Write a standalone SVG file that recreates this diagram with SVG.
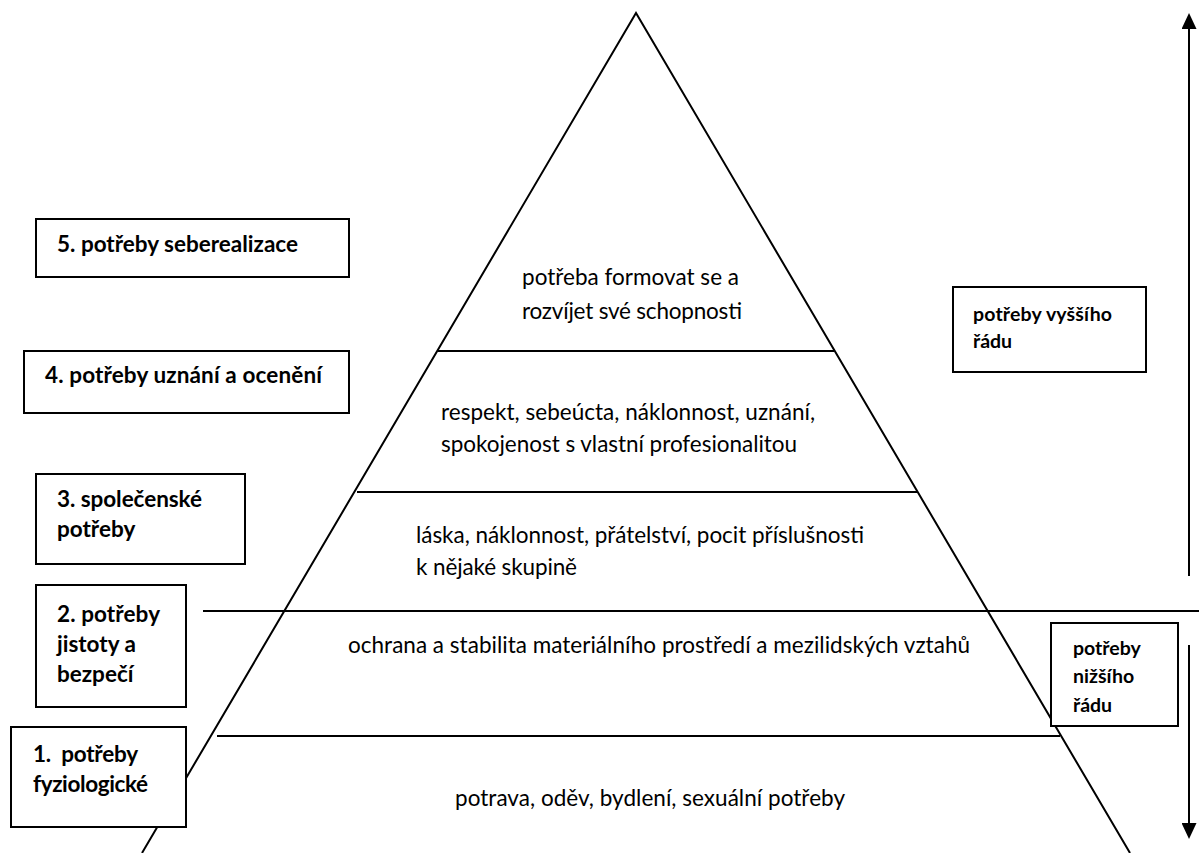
<svg xmlns="http://www.w3.org/2000/svg" width="1199" height="853" viewBox="0 0 1199 853">
<style>
.ln{stroke:#000;stroke-width:2;fill:none}
.bx{fill:#fff;stroke:#000;stroke-width:2}
.t{font-family:Lato,"Open Sans",sans-serif;font-size:22.5px;fill:#000}
.b{font-family:Lato,"Open Sans",sans-serif;font-size:22.5px;font-weight:bold;fill:#000}
.s{font-family:Lato,"Open Sans",sans-serif;font-size:19.5px;font-weight:bold;fill:#000}
</style>
<defs>
<marker id="ah" viewBox="0 0 16 15" refX="0" refY="7.5" markerWidth="16" markerHeight="15" markerUnits="userSpaceOnUse" orient="auto">
<path d="M0,0 L16,7.5 L0,15 Z" fill="#000"/>
</marker>
</defs>
<rect width="1199" height="853" fill="#fff"/>
<g id="pyramid">
<polyline class="ln" points="142,853 636,13 1130,853"/>
</g>
<g id="connectors">
<line class="ln" x1="438" y1="351" x2="834" y2="351"/>
<line class="ln" x1="357" y1="492" x2="917" y2="492"/>
<line class="ln" x1="203" y1="611" x2="1199" y2="611"/>
<line class="ln" x1="217" y1="736" x2="1060" y2="736"/>
<line x1="1189" y1="576" x2="1189" y2="29" stroke="#000" stroke-width="2" marker-end="url(#ah)"/>
<line x1="1189" y1="645" x2="1189" y2="823" stroke="#000" stroke-width="2" marker-end="url(#ah)"/>
</g>
<g id="level5-text">
<text class="t" x="522" y="285" textLength="217">potřeba formovat se a</text>
<text class="t" x="522" y="319" textLength="220">rozvíjet své schopnosti</text>
</g>
<g id="level4-text">
<text class="t" x="441" y="420" textLength="374">respekt, sebeúcta, náklonnost, uznání,</text>
<text class="t" x="441" y="452" textLength="356">spokojenost s vlastní profesionalitou</text>
</g>
<g id="level3-text">
<text class="t" x="416" y="543" textLength="448">láska, náklonnost, přátelství, pocit příslušnosti</text>
<text class="t" x="416" y="575" textLength="161">k nějaké skupině</text>
</g>
<g id="level2-text">
<text class="t" x="348" y="653" textLength="622">ochrana a stabilita materiálního prostředí a mezilidských vztahů</text>
</g>
<g id="level1-text">
<text class="t" x="455" y="806" textLength="390">potrava, oděv, bydlení, sexuální potřeby</text>
</g>
<g id="box5">
<rect class="bx" x="36" y="219" width="313" height="58"/>
<text class="b" x="57" y="252" textLength="241">5. potřeby seberealizace</text>
</g>
<g id="box4">
<rect class="bx" x="24" y="351" width="325" height="62"/>
<text class="b" x="45" y="383" textLength="277">4. potřeby uznání a ocenění</text>
</g>
<g id="box3">
<rect class="bx" x="36" y="474" width="209" height="90"/>
<text class="b" x="57" y="507" textLength="145">3. společenské</text>
<text class="b" x="57" y="537">potřeby</text>
</g>
<g id="box2">
<rect class="bx" x="36" y="585" width="150" height="122"/>
<text class="b" x="57" y="622" textLength="103">2. potřeby</text>
<text class="b" x="57" y="652">jistoty a</text>
<text class="b" x="57" y="682">bezpečí</text>
</g>
<g id="box1">
<rect class="bx" x="11" y="727" width="175" height="100"/>
<text class="b" x="33" y="762" textLength="105" xml:space="preserve">1.  potřeby</text>
<text class="b" x="33" y="792" textLength="115">fyziologické</text>
</g>
<g id="box-higher">
<rect class="bx" x="953" y="287" width="193" height="85"/>
<text class="s" x="973" y="321" textLength="139">potřeby vyššího</text>
<text class="s" x="973" y="348">řádu</text>
</g>
<g id="box-lower">
<rect class="bx" x="1051" y="623" width="127" height="103"/>
<text class="s" x="1073" y="655">potřeby</text>
<text class="s" x="1073" y="683">nižšího</text>
<text class="s" x="1073" y="712">řádu</text>
</g>
</svg>
